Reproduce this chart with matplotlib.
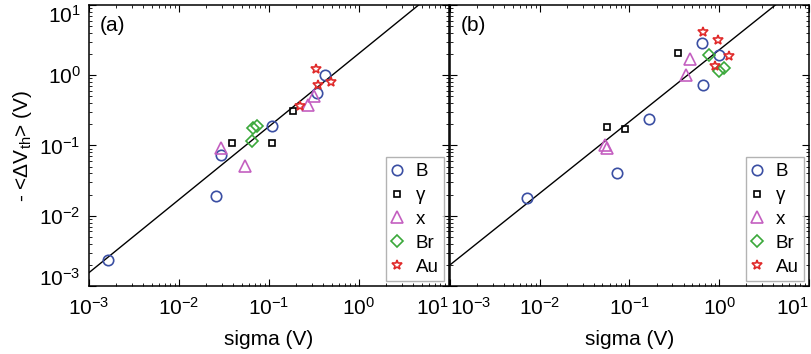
import numpy as np
import matplotlib
matplotlib.use('Agg')
import matplotlib.pyplot as plt
from matplotlib.ticker import LogLocator, FixedLocator, NullFormatter

plt.rcParams['font.family'] = ['Liberation Sans', 'DejaVu Sans']
plt.rcParams['mathtext.fontset'] = 'custom'
plt.rcParams['mathtext.rm'] = 'Liberation Sans'
plt.rcParams['mathtext.it'] = 'Liberation Sans:italic'

series_names = ['B', 'γ', 'x', 'Br', 'Au']
decades = [1e-3, 1e-2, 1e-1, 1e0, 1e1]

# panel (a)
a_B_x = [0.00164, 0.0258, 0.029, 0.107, 0.344, 0.419]
a_B_y = [0.00233, 0.0191, 0.0736, 0.187, 0.56, 1.02]
a_g_x = [0.0385, 0.107, 0.186]
a_g_y = [0.110, 0.108, 0.306]
a_x_x = [0.029, 0.054, 0.273, 0.316]
a_x_y = [0.0916, 0.0518, 0.381, 0.51]
a_Br_x = [0.064, 0.067, 0.073]
a_Br_y = [0.114, 0.177, 0.191]
a_Au_x = [0.333, 0.353, 0.484, 0.221]
a_Au_y = [1.23, 0.735, 0.80, 0.369]
a_fit = (1.55, 1.04)   # y = c * 1e-3 * (x/1e-3)**k

# panel (b)
b_B_x = [0.0072, 0.073, 0.167, 0.641, 0.653, 0.984]
b_B_y = [0.0181, 0.041, 0.238, 2.9, 0.72, 1.93]
b_g_x = [0.056, 0.0895, 0.348]
b_g_y = [0.183, 0.171, 2.04]
b_x_x = [0.0528, 0.056, 0.426, 0.472]
b_x_y = [0.102, 0.0936, 1.02, 1.71]
b_Br_x = [0.774, 0.984, 1.14]
b_Br_y = [1.91, 1.14, 1.27]
b_Au_x = [0.664, 0.957, 1.27, 0.90]
b_Au_y = [4.16, 3.13, 1.87, 1.35]
b_fit = (2.0, 1.02)

styles = [
    dict(marker='o', color='#3b4fa3', ms=7.5),
    dict(marker='s', color='black', ms=5),
    dict(marker='^', color='#c45fc0', ms=8),
    dict(marker='D', color='#3aa83a', ms=6),
    dict(marker='*', color='#e02a2a', ms=7),
]

fig = plt.figure(figsize=(8.11, 3.54), dpi=100)
ax_a = fig.add_axes([0.1097, 0.192, 0.4439, 0.794])
ax_b = fig.add_axes([0.5549, 0.192, 0.4426, 0.794])

panels = [
    (ax_a, '(a)', [(a_B_x, a_B_y), (a_g_x, a_g_y), (a_x_x, a_x_y), (a_Br_x, a_Br_y), (a_Au_x, a_Au_y)], a_fit),
    (ax_b, '(b)', [(b_B_x, b_B_y), (b_g_x, b_g_y), (b_x_x, b_x_y), (b_Br_x, b_Br_y), (b_Au_x, b_Au_y)], b_fit),
]

for ax, tag, groups, fit in panels:
    xl = np.logspace(-3, 1, 50)
    yl = fit[0] * 1e-3 * (xl / 1e-3) ** fit[1]
    ax.plot(xl, yl, color='black', lw=1)
    for (xs, ys), name, st in zip(groups, series_names, styles):
        ax.plot(xs, ys, ls='none', marker=st['marker'], ms=st['ms'],
                mfc='none', mec=st['color'], mew=1.2, label=name)
    ax.set_xscale('log')
    ax.set_yscale('log')
    ax.set_xlim(1e-3, 1e1)
    ax.set_ylim(1e-3, 1e1)
    ax.xaxis.set_major_locator(FixedLocator(decades))
    ax.yaxis.set_major_locator(FixedLocator(decades))
    ax.xaxis.set_minor_locator(LogLocator(base=10, subs=np.arange(2, 10), numticks=10))
    ax.yaxis.set_minor_locator(LogLocator(base=10, subs=np.arange(2, 10), numticks=10))
    ax.xaxis.set_minor_formatter(NullFormatter())
    ax.yaxis.set_minor_formatter(NullFormatter())
    ax.tick_params(which='both', direction='in', top=True, right=True, labelsize=15)
    ax.tick_params(axis='x', which='major', pad=8)
    ax.tick_params(axis='y', which='major', pad=6)
    ax.tick_params(which='major', length=5, width=0.8)
    ax.tick_params(which='minor', length=2.5, width=0.6)
    for sp in ax.spines.values():
        sp.set_linewidth(1.1)
    ax.set_xlabel('sigma (V)', fontsize=15, labelpad=8)
    ax.text(0.03, 0.96, tag, transform=ax.transAxes, fontsize=15, va='top', ha='left')
    leg = ax.legend(loc='lower right', fontsize=13.5, frameon=True, fancybox=False,
                    handlelength=0.6, handletextpad=0.7, borderpad=0.3,
                    labelspacing=0.36, borderaxespad=0.25)
    leg.get_frame().set_edgecolor('#a0a0a0')
    leg.get_frame().set_linewidth(1.0)

ax_b.tick_params(labelleft=False)
ax_a.set_ylabel(r'- <$\Delta$V$_{\rm th}$> (V)', fontsize=15, labelpad=4)

# keep edge tick labels inside, like the original
fig.canvas.draw()
ax_a.xaxis.get_major_ticks()[-1].label1.set_horizontalalignment('right')
ax_b.xaxis.get_major_ticks()[0].label1.set_horizontalalignment('left')
ax_b.xaxis.get_major_ticks()[-1].label1.set_horizontalalignment('right')
ax_a.yaxis.get_major_ticks()[-1].label1.set_verticalalignment('top')
ax_a.yaxis.get_major_ticks()[0].label1.set_verticalalignment('baseline')

fig.savefig('out.png', dpi=100)
